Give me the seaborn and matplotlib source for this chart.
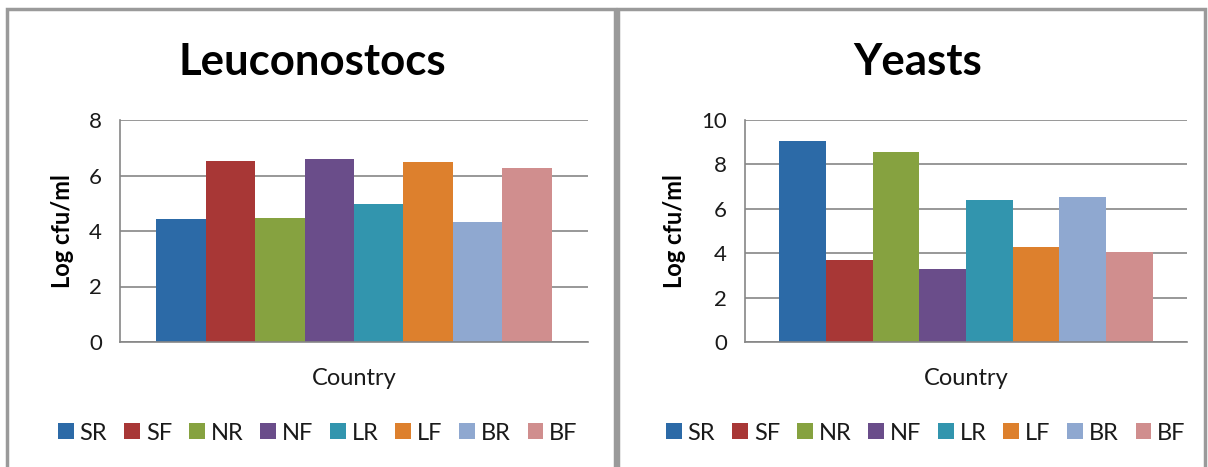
import matplotlib
matplotlib.use("Agg")
import matplotlib.pyplot as plt
import seaborn as sns
import pandas as pd
from matplotlib.patches import Rectangle

sns.set_theme(style="white")
plt.rcParams['font.family'] = ['Lato', 'DejaVu Sans']

groups = ["SR", "SF", "NR", "NF", "LR", "LF", "BR", "BF"]
leuconostocs = [4.42, 6.53, 4.46, 6.58, 4.97, 6.49, 4.32, 6.26]
yeasts = [9.04, 3.71, 8.57, 3.30, 6.38, 4.28, 6.55, 4.04]
colors = ["#2C6AA7", "#A83736", "#86A240", "#6A4D8A", "#3295AE", "#DD802D", "#8FA8D0", "#D08E8E"]
titles = ["Leuconostocs", "Yeasts"]
ylims = [(0, 8), (0, 10)]
yticks_list = [[0, 2, 4, 6, 8], [0, 2, 4, 6, 8, 10]]

fig = plt.figure(figsize=(12.08, 4.67), dpi=100)

# panel borders
for (x0, x1) in [(7 / 1208, 615 / 1208), (618 / 1208, 1205 / 1208)]:
    fig.add_artist(Rectangle((x0, -0.05), x1 - x0, 1 - 9 / 467 + 0.05, transform=fig.transFigure,
                             fill=False, edgecolor="#9a9a9a", linewidth=2.5))

positions = [
    [120 / 1208, 1 - 342 / 467, 468 / 1208, 222 / 467],
    [745 / 1208, 1 - 342 / 467, 442 / 1208, 222 / 467],
]
title_x = [312 / 1208, 918 / 1208]
legend_x = [318 / 1208, 926 / 1208]

for i, vals in enumerate([leuconostocs, yeasts]):
    ax = fig.add_axes(positions[i])
    df = pd.DataFrame({"country": [""] * len(groups), "group": groups, "value": vals})
    sns.barplot(data=df, x="country", y="value", hue="group", hue_order=groups,
                palette=colors, width=0.845, saturation=1, linewidth=0, ax=ax,
                errorbar=None, legend=True)
    ax.set_xlim(-0.5, 0.5)
    ax.set_ylim(*ylims[i])
    ax.set_yticks(yticks_list[i])
    ax.set_xticks([])
    ax.yaxis.grid(True, color="#868686", linewidth=1.2)
    ax.set_axisbelow(True)
    for s in ["top", "right"]:
        ax.spines[s].set_visible(False)
    for s in ["left", "bottom"]:
        ax.spines[s].set_color("#868686")
        ax.spines[s].set_linewidth(1.2)
    ax.tick_params(axis="y", length=0, pad=13, labelsize=16, labelcolor="#1a1a1a")
    ax.set_xlabel("Country", fontsize=17, color="#1a1a1a", labelpad=19)
    ax.set_ylabel("Log cfu/ml", fontsize=17, fontweight="bold", color="black", labelpad=11)
    fig.text(title_x[i], 1 - 62 / 467, titles[i], ha="center", va="center",
             fontsize=31.5, fontweight="bold", color="black")
    handles, labels = ax.get_legend_handles_labels()
    ax.get_legend().remove()
    leg = fig.legend(handles, labels, loc="center", bbox_to_anchor=(legend_x[i], 1 - 433 / 467),
                     ncol=8, frameon=False, fontsize=17, handlelength=0.66, handleheight=0.66,
                     handletextpad=0.25, columnspacing=0.72, borderaxespad=0)
    for t in leg.get_texts():
        t.set_color("#1a1a1a")

fig.savefig("out.png", dpi=100)
